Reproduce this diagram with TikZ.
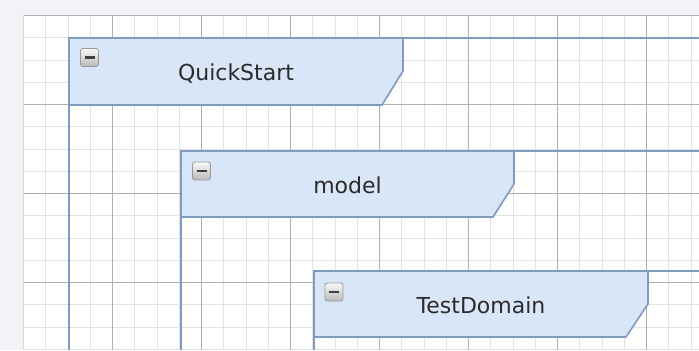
\documentclass[tikz,border=0pt]{standalone}
\usepackage{fontspec}
\setmainfont{DejaVu Sans}
\definecolor{pkgfill}{HTML}{D9E6F8}
\definecolor{pkgdraw}{HTML}{7F9BC0}
\definecolor{gridminor}{HTML}{E2E2E2}
\definecolor{gridmajor}{HTML}{B0B0B0}
\definecolor{canvas}{HTML}{F1F3F6}
\definecolor{labeltext}{HTML}{2B2B2B}
\tikzset{
    pkgtab/.style ={
        fill=pkgfill,
        draw=pkgdraw,
        line width=0.8pt
    },
    pkgline/.style ={
        draw=pkgdraw,
        line width=0.8pt
    },
    minorline/.style ={
        draw=gridminor,
        line width=0.5pt
    },
    majorline/.style ={
        draw=gridmajor,
        line width=0.6pt
    },
    pkglabel/.style ={
        text=labeltext,
        font=\fontsize{11}{13}\selectfont,
        inner sep=0pt,
        anchor=base
    },
    collapse/.style ={
        shape=rectangle,
        rounded corners=1.2pt,
        draw=gray!80,
        top color=gray!5,
        bottom color=gray!55,
        minimum size=9pt,
        inner sep=0pt,
        path picture={
            \draw[line width=1.3pt, draw=black!75]
                ([xshift=2pt]path picture bounding box.west) --
                ([xshift=-2pt]path picture bounding box.east);
        }
    }
}
\begin{document}
\begin{tikzpicture}[x=0.5pt,y=-0.5pt]
        \useasboundingbox (0,0) rectangle (699,350);
        \fill[canvas] (0,0) rectangle (699,350);
        \fill[white] (23.5,15.5) rectangle (699,350);
        % grid
        \begin{scope}
            \clip (23.5,15.5) rectangle (699,350);
            \foreach \i in {0,...,30}
                \draw[minorline] ({23.5+22.25*\i},15.5) -- ({23.5+22.25*\i},350);
            \foreach \j in {0,...,15}
                \draw[minorline] (23.5,{15.5+22.25*\j}) -- (699,{15.5+22.25*\j});
            \foreach \i in {0,...,7}
                \draw[majorline] ({23.5+89*\i},15.5) -- ({23.5+89*\i},350);
            \foreach \j in {0,...,3}
                \draw[majorline] (23.5,{15.5+89*\j}) -- (699,{15.5+89*\j});
        \end{scope}
        % package bodies
        \draw[pkgline] (69,350) -- (69,38) -- (699,38);
        \draw[pkgline] (181,350) -- (181,151) -- (699,151);
        \draw[pkgline] (314,350) -- (314,271) -- (699,271);
        % package tabs
        \draw[pkgtab] (69,38) -- (403,38) -- (403,71) -- (382,105) -- (69,105) -- cycle;
        \draw[pkgtab] (181,151) -- (514,151) -- (514,184) -- (493,217) -- (181,217) -- cycle;
        \draw[pkgtab] (314,271) -- (648,271) -- (648,304) -- (626,337) -- (314,337) -- cycle;
        \node[collapse] (quickstartbtn) at (89.5,57.5) {};
        \node[collapse] (modelbtn) at (201.5,171) {};
        \node[collapse] (testdomainbtn) at (334,292) {};
        \node[pkglabel] (quickstart) at (236,80) {QuickStart};
        \node[pkglabel] (model) at (347.5,193) {model};
        \node[pkglabel] (testdomain) at (481,313) {TestDomain};
    \end{tikzpicture}
\end{document}
